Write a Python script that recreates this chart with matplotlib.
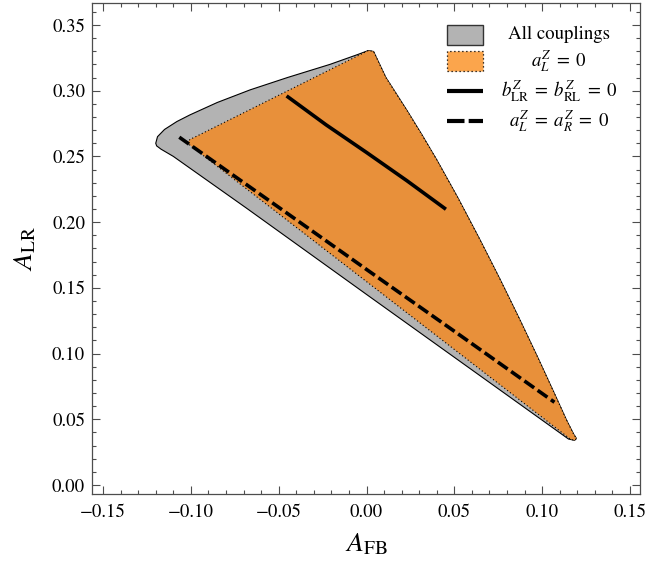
import matplotlib
matplotlib.use("Agg")
import matplotlib.pyplot as plt
from matplotlib.patches import Polygon, Rectangle
from matplotlib.lines import Line2D
from matplotlib.ticker import MultipleLocator, FuncFormatter

plt.rcParams["font.family"] = ["STIXGeneral", "Liberation Serif", "DejaVu Serif"]
plt.rcParams["mathtext.fontset"] = "stix"

# Allowed region for all couplings (boundary, counter-clockwise from the left corner)
all_x = [-0.1200, -0.1190, -0.1150, -0.1080, -0.1005, -0.0850, -0.0663, -0.0450,
         -0.0208, -0.0050, 0.0010, 0.0040, 0.0110, 0.0228, 0.0315, 0.0400,
         0.0520, 0.0646, 0.0760, 0.0870, 0.0975, 0.1070, 0.1140, 0.1180,
         0.1195, 0.1185, 0.1150, 0.0000, -0.0682, -0.1100, -0.1170, -0.1195]
all_y = [0.2600, 0.2650, 0.2705, 0.2765, 0.2816, 0.2910, 0.3006, 0.3100,
         0.3200, 0.3275, 0.3305, 0.3298, 0.3100, 0.2854, 0.2665, 0.2473,
         0.2185, 0.1865, 0.1565, 0.1265, 0.0970, 0.0695, 0.0490, 0.0385,
         0.0355, 0.0340, 0.0350, 0.1450, 0.2105, 0.2500, 0.2555, 0.2580]

# Allowed region with a_L^Z = 0
al0_x = [-0.1020, -0.1005, -0.0980, 0.0010, 0.0040, 0.0110, 0.0228, 0.0315,
         0.0400, 0.0520, 0.0646, 0.0760, 0.0870, 0.0975, 0.1070, 0.1140,
         0.1180, 0.1195, 0.1185, 0.1160, -0.1005]
al0_y = [0.2600, 0.2630, 0.2645, 0.3305, 0.3298, 0.3100, 0.2854, 0.2665,
         0.2473, 0.2185, 0.1865, 0.1565, 0.1265, 0.0970, 0.0695, 0.0490,
         0.0385, 0.0355, 0.0340, 0.0350, 0.2585]

# b_LR^Z = b_RL^Z = 0
blr_x = [-0.0455, -0.0230, 0.0000, 0.0230, 0.0452]
blr_y = [0.2960, 0.2740, 0.2530, 0.2315, 0.2098]

# a_L^Z = a_R^Z = 0
alr_x = [-0.1066, -0.0493, 0.0000, 0.0500, 0.1070]
alr_y = [0.2646, 0.2106, 0.1640, 0.1170, 0.0630]

x_ticks = [-0.15, -0.10, -0.05, 0.00, 0.05, 0.10, 0.15]
y_ticks = [0.00, 0.05, 0.10, 0.15, 0.20, 0.25, 0.30, 0.35]

gray_fill = "#b3b3b3"
orange_fill = "#e8903a"
orange_key = "#fba54c"
frame_col = "#4d4d4d"


def two_decimals(v, _pos):
    s = f"{v:.2f}"
    if s.startswith("-") and float(s) == 0:
        s = s[1:]
    return s.replace("-", "\u2212")


fig = plt.figure(figsize=(6.46, 5.74), dpi=100)
ax = fig.add_axes([0.1424, 0.1394, 0.8483, 0.8554])

ax.add_patch(Polygon(list(zip(all_x, all_y)), closed=True, facecolor=gray_fill,
                     edgecolor="black", linewidth=0.8, zorder=2))
ax.add_patch(Polygon(list(zip(al0_x, al0_y)), closed=True, facecolor=orange_fill,
                     edgecolor="none", zorder=3))
ax.add_patch(Polygon(list(zip(al0_x, al0_y)), closed=True, facecolor="none",
                     edgecolor="black", linewidth=0.8, linestyle=(0, (1, 2.2)),
                     zorder=4))

ax.plot(blr_x, blr_y, color="black", linewidth=2.6, solid_capstyle="butt", zorder=5)
ax.plot(alr_x, alr_y, color="black", linewidth=2.6, dashes=(3.3, 1.2),
        dash_capstyle="butt", zorder=5)

ax.set_xlim(-0.1563, 0.1557)
ax.set_ylim(-0.0068, 0.3667)
ax.set_xticks(x_ticks)
ax.set_yticks(y_ticks)
ax.xaxis.set_major_formatter(FuncFormatter(two_decimals))
ax.yaxis.set_major_formatter(FuncFormatter(two_decimals))
ax.xaxis.set_minor_locator(MultipleLocator(0.01))
ax.yaxis.set_minor_locator(MultipleLocator(0.01))
ax.tick_params(which="both", direction="in", top=True, right=True,
               color=frame_col, width=0.8, labelsize=13.5)
ax.tick_params(which="major", length=5.5)
ax.tick_params(which="minor", length=3)
ax.tick_params(axis="x", pad=7)
ax.tick_params(axis="y", pad=5)
for s in ax.spines.values():
    s.set_color(frame_col)
    s.set_linewidth(0.9)

ax.set_xlabel(r"$A_{\mathrm{FB}}$", fontsize=20, labelpad=8)
ax.set_ylabel(r"$A_{\mathrm{LR}}$", fontsize=20, labelpad=10)

# Key in the upper right corner
tr = ax.transAxes
kx0, kx1 = 0.648, 0.714
tx = 0.852
rows = [0.935, 0.882, 0.821, 0.760]
kh = 0.040
ax.add_patch(Rectangle((kx0, rows[0] - kh / 2), kx1 - kx0, kh, transform=tr,
                       facecolor=gray_fill, edgecolor="#333333", linewidth=1.0, zorder=6))
ax.add_patch(Rectangle((kx0, rows[1] - kh / 2), kx1 - kx0, kh, transform=tr,
                       facecolor=orange_key, edgecolor="black", linewidth=0.9,
                       linestyle=(0, (1, 2.2)), zorder=6))
ax.add_line(Line2D([kx0, kx1], [rows[2], rows[2]], transform=tr, color="black",
                   linewidth=3, solid_capstyle="butt", zorder=6))
ax.add_line(Line2D([kx0, kx1], [rows[3], rows[3]], transform=tr, color="black",
                   linewidth=3, dashes=(4.2, 1.0), dash_capstyle="butt", zorder=6))
labels = ["All couplings",
          r"$a_L^Z\;=\;0$",
          r"$b_{\mathrm{LR}}^Z\;=\;b_{\mathrm{RL}}^Z\;=\;0$",
          r"$a_L^Z\;=\;a_R^Z\;=\;0$"]
for r, t in zip(rows, labels):
    ax.text(tx, r, t, transform=tr, ha="center", va="center", fontsize=13.5, zorder=6)

fig.savefig("out.png", dpi=100)
